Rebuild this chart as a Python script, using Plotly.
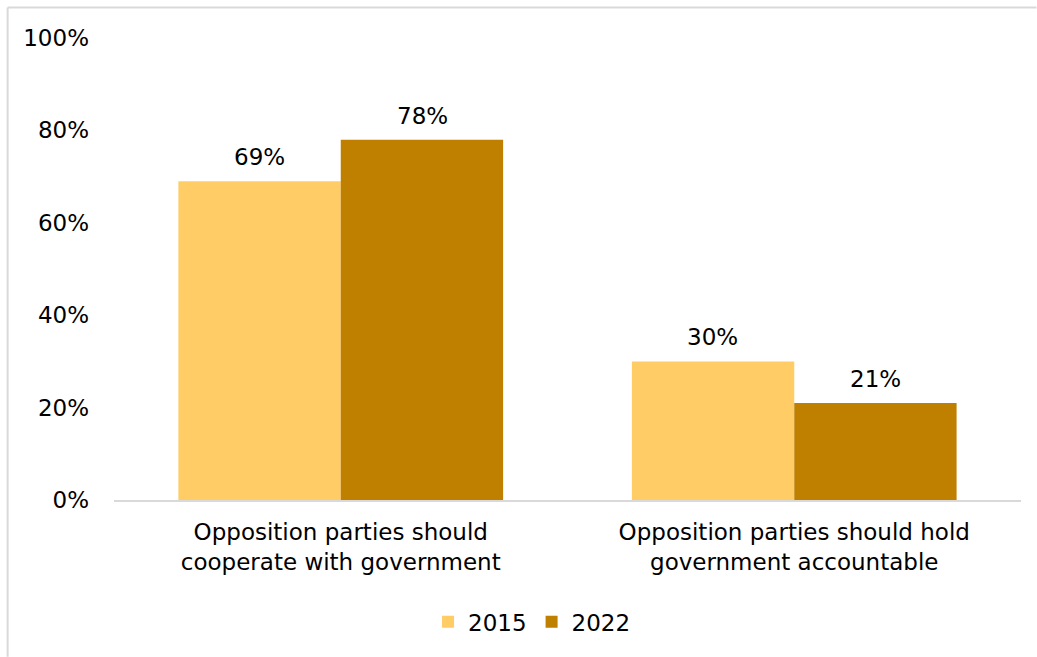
import plotly.graph_objects as go

categories = ["Opposition parties should<br>cooperate with government",
              "Opposition parties should hold<br>government accountable"]
series_names = ["2015", "2022"]
values_2015 = [69, 30]
values_2022 = [78, 21]
colors = ["#FFCC66", "#BF8000"]
y_ticks = [0, 20, 40, 60, 80, 100]

W, H = 1037, 657
ml, mr, mt, mb = 113.5, 15.5, 37.5, 157
pw, ph = W - ml - mr, H - mt - mb
bargap = 0.284
bar_px = pw / len(categories) * (1 - bargap) / len(series_names)

def px_x(px):
    return (px - ml) / pw

def px_y(py):
    return (H - mb - py) / ph

fig = go.Figure()
annotations = []
all_vals = [values_2015, values_2022]
for i, (name, vals, col) in enumerate(zip(series_names, all_vals, colors)):
    fig.add_trace(go.Bar(
        x=categories, y=vals, name=name, marker_color=col,
        marker_line_width=0,
    ))
    offset = (i - (len(series_names) - 1) / 2) * bar_px
    for c, v in zip(categories, vals):
        annotations.append(dict(
            x=c, y=v, xref="x", yref="y", text=f"{v}%", showarrow=False,
            xshift=offset, yanchor="bottom", yshift=9,
            font=dict(size=23, color="#000000"),
        ))

fig.update_layout(
    width=W, height=H,
    margin=dict(l=ml, r=mr, t=mt, b=mb, autoexpand=False),
    paper_bgcolor="white", plot_bgcolor="white",
    font=dict(family="DejaVu Sans", size=23, color="#000000"),
    barmode="group", bargap=bargap, bargroupgap=0,
    showlegend=True,
    legend=dict(orientation="h", x=px_x(532), xanchor="center",
                y=px_y(622), yanchor="middle", font=dict(size=23),
                itemwidth=30, tracegroupgap=0),
    xaxis=dict(showline=True, linecolor="#D9D9D9", linewidth=2,
               ticks="", showgrid=False, tickfont=dict(size=23),
               ticklabelstandoff=10),
    yaxis=dict(range=[0, 100], tickvals=y_ticks,
               ticktext=[f"{t}%" for t in y_ticks],
               showgrid=False, showline=False, zeroline=False,
               ticks="", ticklabelstandoff=24, tickfont=dict(size=23)),
    annotations=annotations,
    shapes=[
        dict(type="line", xref="paper", yref="paper",
             x0=px_x(7), x1=px_x(1037), y0=px_y(7), y1=px_y(7),
             line=dict(color="#D9D9D9", width=2)),
        dict(type="line", xref="paper", yref="paper",
             x0=px_x(7), x1=px_x(7), y0=px_y(7), y1=px_y(657),
             line=dict(color="#D9D9D9", width=2)),
    ],
)

fig.write_html("out.html")
